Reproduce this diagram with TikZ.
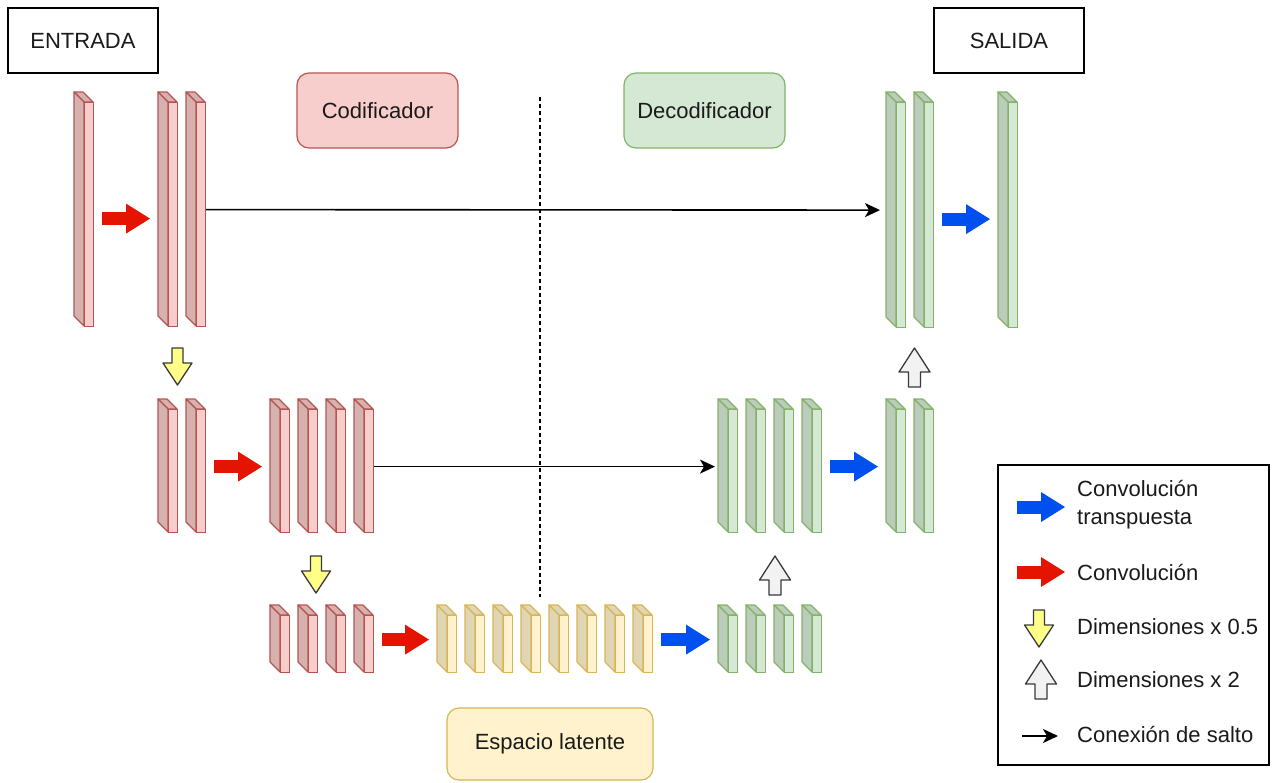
\documentclass[tikz,border=0pt]{standalone}
\usepackage{fontspec}
\setmainfont{Liberation Sans}
\usetikzlibrary{arrows.meta,positioning}
\definecolor{EncFill}{HTML}{F8CECC}
\definecolor{EncLine}{HTML}{B85450}
\definecolor{DecFill}{HTML}{D5E8D4}
\definecolor{DecLine}{HTML}{82B366}
\definecolor{LatFill}{HTML}{FFF2CC}
\definecolor{LatLine}{HTML}{D6B656}
\definecolor{ConvRed}{HTML}{E51400}
\definecolor{TConvBlue}{HTML}{0050EF}
\definecolor{HalfYellow}{HTML}{FFFF88}
\definecolor{DoubleGrey}{HTML}{F2F2F2}
\definecolor{ArrowEdge}{HTML}{36393D}
\definecolor{Ink}{HTML}{1A1A1A}
\tikzset{
  txt/.style={font=\fontsize{22}{28}\selectfont,text=Ink},
  encface/.style={draw=EncLine,fill=EncFill,line width=1.2pt,inner sep=0pt,minimum width=9pt},
  encside/.style={draw=EncLine,fill=EncFill!86!black,line width=1.2pt,line join=round},
  latface/.style={draw=LatLine,fill=LatFill,line width=1.2pt,inner sep=0pt,minimum width=9pt},
  latside/.style={draw=LatLine,fill=LatFill!88!black,line width=1.2pt,line join=round},
  decface/.style={draw=DecLine,fill=DecFill,line width=1.2pt,inner sep=0pt,minimum width=9pt},
  decside/.style={draw=DecLine,fill=DecFill!88!black,line width=1.2pt,line join=round},
  titlebox/.style={txt,draw=black,line width=1.5pt,minimum width=150pt,minimum height=65pt},
  groupbox/.style={txt,rounded corners=12pt,line width=1.2pt,minimum width=161pt,minimum height=75pt},
  legendtext/.style={txt,anchor=west,align=left,inner sep=0pt},
  conv/.style={line width=13pt,color=ConvRed,-{Triangle[length=24pt,width=30pt,line width=0pt]}},
  tconv/.style={conv,color=TConvBlue},
  spaced/.style={shorten <=8pt,shorten >=8pt},
  skipline/.style={-{Stealth[length=15pt,width=14pt,inset=4pt]},line width=1.6pt,color=black},
  halfbox/.style={draw=ArrowEdge,fill=HalfYellow,line width=1.3pt,line join=round},
  doublebox/.style={draw=ArrowEdge,fill=DoubleGrey,line width=1.3pt,line join=round},
  halfarrow/.pic={\filldraw[halfbox] (-5.5,0) -- (5.5,0) -- (5.5,15) -- (14.5,15) -- (0,37) -- (-14.5,15) -- (-5.5,15) -- cycle;},
  doublearrow/.pic={\filldraw[doublebox] (0,0) -- (15.5,24) -- (6,24) -- (6,39) -- (-6,39) -- (-6,24) -- (-15.5,24) -- cycle;},
  divider/.style={line width=1.3pt,dash pattern=on 4pt off 3pt}
}
% one feature map: side, top and front face (named front node)
\newcommand{\layer}[5]{%
  \filldraw[#5side] (#2,#3) -- (#2+9,#3) -- (#2+19,#3+10) -- (#2+10,#3+10) -- cycle;
  \filldraw[#5side] (#2,#3) -- (#2+10,#3+10) -- (#2+10,#4) -- (#2,#4-10) -- cycle;
  \node[#5face,minimum height=#4-#3-10,anchor=north west] (#1) at (#2+10,#3+10) {};
}

\begin{document}
\begin{tikzpicture}[x=1pt,y=-1pt]
  \useasboundingbox (0,0) rectangle (1272,782);
  % titles
  \node[titlebox] (entrada) at (83,40.5) {ENTRADA};
  \node[titlebox] (salida) at (1009,40.5) {SALIDA};
  \node[groupbox,draw=EncLine,fill=EncFill] (codif) at (377.5,110.5) {Codificador};
  \node[groupbox,draw=DecLine,fill=DecFill] (decodif) at (704.5,110.5) {Decodificador};
  \node[groupbox,draw=LatLine,fill=LatFill,minimum width=206pt,minimum height=72pt] (latente) at (550,744) {Espacio latente};
  \coordinate (divtop) at (540,97);
  \coordinate (divbot) at (540,597);
  \draw[divider] (divtop) -- (divbot);
  % feature maps
  \foreach \x [count=\i] in {74,158,186} {\layer{enc1-\i}{\x}{92}{326}{enc}}
  \foreach \x [count=\i] in {158,186,270,298,326,354} {\layer{enc2-\i}{\x}{399}{532}{enc}}
  \foreach \x [count=\i] in {270,298,326,354} {\layer{enc3-\i}{\x}{605}{672}{enc}}
  \foreach \x [count=\i] in {437,465,493,521,549,577,605,633} {\layer{lat-\i}{\x}{605}{672}{lat}}
  \foreach \x [count=\i] in {718,746,774,802} {\layer{dec3-\i}{\x}{605}{672}{dec}}
  \foreach \x [count=\i] in {718,746,774,802,886,914} {\layer{dec2-\i}{\x}{399}{532}{dec}}
  \foreach \x [count=\i] in {886,914,998} {\layer{dec1-\i}{\x}{92}{327}{dec}}
  % convolutions
  \draw[conv,spaced] ([yshift=-4]enc1-1.east) -- ([xshift=-10,yshift=-4]enc1-2.west);
  \draw[conv,spaced] ([yshift=4.5]enc2-2.east) -- ([xshift=-10,yshift=4.5]enc2-3.west);
  \draw[conv,spaced] ([yshift=4.5]enc3-4.east) -- ([xshift=-10,yshift=4.5]lat-1.west);
  \draw[tconv,spaced] ([yshift=4.5]lat-8.east) -- ([xshift=-10,yshift=4.5]dec3-1.west);
  \draw[tconv,spaced] ([yshift=4.5]dec2-4.east) -- ([xshift=-10,yshift=4.5]dec2-5.west);
  \draw[tconv,spaced] ([yshift=-4]dec1-2.east) -- ([xshift=-10,yshift=-4]dec1-3.west);
  % skip connections
  \draw[skipline] ([yshift=5]enc1-3.east) -- ([xshift=-16,yshift=5]dec1-1.west);
  \draw[skipline] ([yshift=4.5]enc2-6.east) -- ([xshift=-13,yshift=4.5]dec2-1.west);
  % resizing
  \pic at (177.5,348) {halfarrow};
  \pic at (316,556) {halfarrow};
  \pic at (914.5,348) {doublearrow};
  \pic at (775,556) {doublearrow};
  % legend
  \node[draw=black,line width=1.3pt,minimum width=271pt,minimum height=300pt] (legend) at (1133.5,615) {};
  \node[legendtext] (lgtconv) at (1077,505) {Convolución\\transpuesta};
  \node[legendtext] (lgconv) at (1077,572) {Convolución};
  \node[legendtext] (lghalf) at (1077,627) {Dimensiones x 0.5};
  \node[legendtext] (lgdouble) at (1077,680) {Dimensiones x 2};
  \node[legendtext] (lgskip) at (1077,734) {Conexión de salto};
  \draw[tconv] ([xshift=-60,yshift=-2]lgtconv.west) -- ([xshift=-12,yshift=-2]lgtconv.west);
  \draw[conv] ([xshift=-60]lgconv.west) -- ([xshift=-12]lgconv.west);
  \pic at ([xshift=-38,yshift=17]lghalf.west) {halfarrow};
  \pic at ([xshift=-36,yshift=20]lgdouble.west) {doublearrow};
  \draw[skipline] ([xshift=-55,yshift=-2]lgskip.west) -- ([xshift=-19,yshift=-2]lgskip.west);
\end{tikzpicture}
\end{document}
